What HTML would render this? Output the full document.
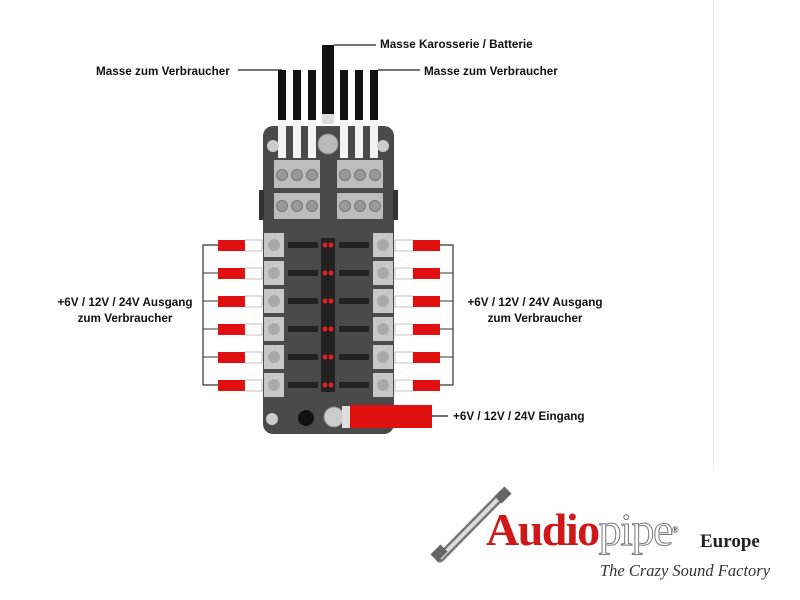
<!DOCTYPE html>
<html><head><style>
body{margin:0;background:#fff;}
.t{position:absolute;font-family:"Liberation Sans",sans-serif;font-weight:bold;font-size:11.7px;color:#111;white-space:nowrap;}
</style></head><body>
<div style="position:relative;width:800px;height:600px;overflow:hidden;background:#fff">
<div style="position:absolute;left:713px;top:0;width:1px;height:470px;background:#eee"></div>
<svg width="800" height="600" style="position:absolute;left:0;top:0">
<line x1="334" y1="45" x2="376" y2="45" stroke="#222" stroke-width="1.3"/>
<line x1="238" y1="70" x2="282" y2="70" stroke="#222" stroke-width="1.3"/>
<line x1="378" y1="70" x2="420" y2="70" stroke="#222" stroke-width="1.3"/>
<rect x="263" y="126" width="131" height="308" rx="10" fill="#4a4a4a"/>
<rect x="259" y="190" width="5" height="30" fill="#333"/>
<rect x="393" y="190" width="5" height="30" fill="#333"/>
<g fill="#111">
<rect x="278" y="70" width="8" height="50"/><rect x="293" y="70" width="8" height="50"/><rect x="308" y="70" width="8" height="50"/>
<rect x="340" y="70" width="8" height="50"/><rect x="355" y="70" width="8" height="50"/><rect x="370" y="70" width="8" height="50"/>
<rect x="322" y="45" width="12" height="70"/>
</g>
<g fill="#f2f2f2">
<rect x="278" y="120" width="8" height="38"/><rect x="293" y="120" width="8" height="38"/><rect x="308" y="120" width="8" height="38"/>
<rect x="340" y="120" width="8" height="38"/><rect x="355" y="120" width="8" height="38"/><rect x="370" y="120" width="8" height="38"/>
</g>
<rect x="322" y="114" width="12" height="10" fill="#ddd"/>
<circle cx="328" cy="144" r="10" fill="#bbb" stroke="#888"/>
<circle cx="273" cy="146" r="6" fill="#ccc"/><circle cx="383" cy="146" r="6" fill="#ccc"/>
<g fill="#bdbdbd">
<rect x="274" y="160" width="46" height="28"/><rect x="337" y="160" width="46" height="28"/>
<rect x="274" y="193" width="46" height="26"/><rect x="337" y="193" width="46" height="26"/>
</g>
<g fill="#999" stroke="#777">
<circle cx="282" cy="175" r="5.5"/><circle cx="297" cy="175" r="5.5"/><circle cx="312" cy="175" r="5.5"/>
<circle cx="345" cy="175" r="5.5"/><circle cx="360" cy="175" r="5.5"/><circle cx="375" cy="175" r="5.5"/>
<circle cx="282" cy="206" r="5.5"/><circle cx="297" cy="206" r="5.5"/><circle cx="312" cy="206" r="5.5"/>
<circle cx="345" cy="206" r="5.5"/><circle cx="360" cy="206" r="5.5"/><circle cx="375" cy="206" r="5.5"/>
</g>
<rect x="321" y="238" width="14" height="154" fill="#222"/>
<polyline points="262,245 203,245 203,385 262,385" fill="none" stroke="#333" stroke-width="1.2"/>
<polyline points="395,245 453,245 453,385 395,385" fill="none" stroke="#333" stroke-width="1.2"/>
<g>
<g transform="translate(0,245)"><line x1="203" y1="0" x2="218" y2="0" stroke="#333"/><rect x="218" y="-5" width="27" height="11" fill="#e01010"/><rect x="245" y="-5" width="17" height="11" fill="#fff" stroke="#888" stroke-width=".5"/><rect x="264" y="-12" width="20" height="24" fill="#c8c8c8"/><circle cx="274" cy="0" r="6" fill="#aaa"/><rect x="288" y="-3" width="30" height="6" fill="#222"/><rect x="339" y="-3" width="30" height="6" fill="#222"/><circle cx="325" cy="0" r="2.5" fill="#d22"/><circle cx="331" cy="0" r="2.5" fill="#d22"/><rect x="373" y="-12" width="20" height="24" fill="#c8c8c8"/><circle cx="383" cy="0" r="6" fill="#aaa"/><rect x="395" y="-5" width="18" height="11" fill="#fff" stroke="#888" stroke-width=".5"/><rect x="413" y="-5" width="27" height="11" fill="#e01010"/><line x1="440" y1="0" x2="453" y2="0" stroke="#333"/></g>
<g transform="translate(0,273)"><line x1="203" y1="0" x2="218" y2="0" stroke="#333"/><rect x="218" y="-5" width="27" height="11" fill="#e01010"/><rect x="245" y="-5" width="17" height="11" fill="#fff" stroke="#888" stroke-width=".5"/><rect x="264" y="-12" width="20" height="24" fill="#c8c8c8"/><circle cx="274" cy="0" r="6" fill="#aaa"/><rect x="288" y="-3" width="30" height="6" fill="#222"/><rect x="339" y="-3" width="30" height="6" fill="#222"/><circle cx="325" cy="0" r="2.5" fill="#d22"/><circle cx="331" cy="0" r="2.5" fill="#d22"/><rect x="373" y="-12" width="20" height="24" fill="#c8c8c8"/><circle cx="383" cy="0" r="6" fill="#aaa"/><rect x="395" y="-5" width="18" height="11" fill="#fff" stroke="#888" stroke-width=".5"/><rect x="413" y="-5" width="27" height="11" fill="#e01010"/><line x1="440" y1="0" x2="453" y2="0" stroke="#333"/></g>
<g transform="translate(0,301)"><line x1="203" y1="0" x2="218" y2="0" stroke="#333"/><rect x="218" y="-5" width="27" height="11" fill="#e01010"/><rect x="245" y="-5" width="17" height="11" fill="#fff" stroke="#888" stroke-width=".5"/><rect x="264" y="-12" width="20" height="24" fill="#c8c8c8"/><circle cx="274" cy="0" r="6" fill="#aaa"/><rect x="288" y="-3" width="30" height="6" fill="#222"/><rect x="339" y="-3" width="30" height="6" fill="#222"/><circle cx="325" cy="0" r="2.5" fill="#d22"/><circle cx="331" cy="0" r="2.5" fill="#d22"/><rect x="373" y="-12" width="20" height="24" fill="#c8c8c8"/><circle cx="383" cy="0" r="6" fill="#aaa"/><rect x="395" y="-5" width="18" height="11" fill="#fff" stroke="#888" stroke-width=".5"/><rect x="413" y="-5" width="27" height="11" fill="#e01010"/><line x1="440" y1="0" x2="453" y2="0" stroke="#333"/></g>
<g transform="translate(0,329)"><line x1="203" y1="0" x2="218" y2="0" stroke="#333"/><rect x="218" y="-5" width="27" height="11" fill="#e01010"/><rect x="245" y="-5" width="17" height="11" fill="#fff" stroke="#888" stroke-width=".5"/><rect x="264" y="-12" width="20" height="24" fill="#c8c8c8"/><circle cx="274" cy="0" r="6" fill="#aaa"/><rect x="288" y="-3" width="30" height="6" fill="#222"/><rect x="339" y="-3" width="30" height="6" fill="#222"/><circle cx="325" cy="0" r="2.5" fill="#d22"/><circle cx="331" cy="0" r="2.5" fill="#d22"/><rect x="373" y="-12" width="20" height="24" fill="#c8c8c8"/><circle cx="383" cy="0" r="6" fill="#aaa"/><rect x="395" y="-5" width="18" height="11" fill="#fff" stroke="#888" stroke-width=".5"/><rect x="413" y="-5" width="27" height="11" fill="#e01010"/><line x1="440" y1="0" x2="453" y2="0" stroke="#333"/></g>
<g transform="translate(0,357)"><line x1="203" y1="0" x2="218" y2="0" stroke="#333"/><rect x="218" y="-5" width="27" height="11" fill="#e01010"/><rect x="245" y="-5" width="17" height="11" fill="#fff" stroke="#888" stroke-width=".5"/><rect x="264" y="-12" width="20" height="24" fill="#c8c8c8"/><circle cx="274" cy="0" r="6" fill="#aaa"/><rect x="288" y="-3" width="30" height="6" fill="#222"/><rect x="339" y="-3" width="30" height="6" fill="#222"/><circle cx="325" cy="0" r="2.5" fill="#d22"/><circle cx="331" cy="0" r="2.5" fill="#d22"/><rect x="373" y="-12" width="20" height="24" fill="#c8c8c8"/><circle cx="383" cy="0" r="6" fill="#aaa"/><rect x="395" y="-5" width="18" height="11" fill="#fff" stroke="#888" stroke-width=".5"/><rect x="413" y="-5" width="27" height="11" fill="#e01010"/><line x1="440" y1="0" x2="453" y2="0" stroke="#333"/></g>
<g transform="translate(0,385)"><line x1="203" y1="0" x2="218" y2="0" stroke="#333"/><rect x="218" y="-5" width="27" height="11" fill="#e01010"/><rect x="245" y="-5" width="17" height="11" fill="#fff" stroke="#888" stroke-width=".5"/><rect x="264" y="-12" width="20" height="24" fill="#c8c8c8"/><circle cx="274" cy="0" r="6" fill="#aaa"/><rect x="288" y="-3" width="30" height="6" fill="#222"/><rect x="339" y="-3" width="30" height="6" fill="#222"/><circle cx="325" cy="0" r="2.5" fill="#d22"/><circle cx="331" cy="0" r="2.5" fill="#d22"/><rect x="373" y="-12" width="20" height="24" fill="#c8c8c8"/><circle cx="383" cy="0" r="6" fill="#aaa"/><rect x="395" y="-5" width="18" height="11" fill="#fff" stroke="#888" stroke-width=".5"/><rect x="413" y="-5" width="27" height="11" fill="#e01010"/><line x1="440" y1="0" x2="453" y2="0" stroke="#333"/></g>
</g>
<circle cx="272" cy="419" r="6" fill="#ccc"/>
<circle cx="306" cy="418" r="8" fill="#111"/>
<circle cx="334" cy="417" r="10" fill="#ccc" stroke="#888"/>
<rect x="342" y="406" width="8" height="22" fill="#ddd"/>
<rect x="350" y="405" width="82" height="23" fill="#e01010"/>
<line x1="432" y1="416" x2="448" y2="416" stroke="#222" stroke-width="1.3"/>
<line x1="440" y1="558" x2="503" y2="494" stroke="#777" stroke-width="9" stroke-linecap="round"/>
<line x1="440" y1="558" x2="503" y2="494" stroke="#ddd" stroke-width="4"/>
<rect x="432" y="548" width="14" height="10" fill="#666" transform="rotate(-45 439 553)"/>
<rect x="496" y="490" width="14" height="10" fill="#666" transform="rotate(-45 503 495)"/>
</svg>
<div class="t" style="left:380px;top:38px">Masse Karosserie / Batterie</div>
<div class="t" style="left:96px;top:65px">Masse zum Verbraucher</div>
<div class="t" style="left:424px;top:65px">Masse zum Verbraucher</div>
<div class="t" style="left:45px;top:296px;text-align:center;width:160px">+6V / 12V / 24V Ausgang<br><span style="line-height:19px">zum Verbraucher</span></div>
<div class="t" style="left:455px;top:296px;text-align:center;width:160px">+6V / 12V / 24V Ausgang<br><span style="line-height:19px">zum Verbraucher</span></div>
<div class="t" style="left:453px;top:410px">+6V / 12V / 24V Eingang</div>
<div style="position:absolute;left:486px;top:505px;font-family:'Liberation Serif',serif;font-weight:bold;font-size:46px;color:#d01818;letter-spacing:-1.5px;white-space:nowrap;line-height:50px">Audio<span style="color:#fff;-webkit-text-stroke:1px #777;font-weight:normal">pipe</span><sup style="font-size:9px;color:#333;vertical-align:top">®</sup></div>
<div style="position:absolute;left:700px;top:531px;font-family:'Liberation Serif',serif;font-weight:bold;font-size:19px;color:#222">Europe</div>
<div style="position:absolute;left:600px;top:561px;font-family:'Liberation Serif',serif;font-style:italic;font-size:16.5px;color:#333;white-space:nowrap">The Crazy Sound Factory</div>
</div>
</body></html>
